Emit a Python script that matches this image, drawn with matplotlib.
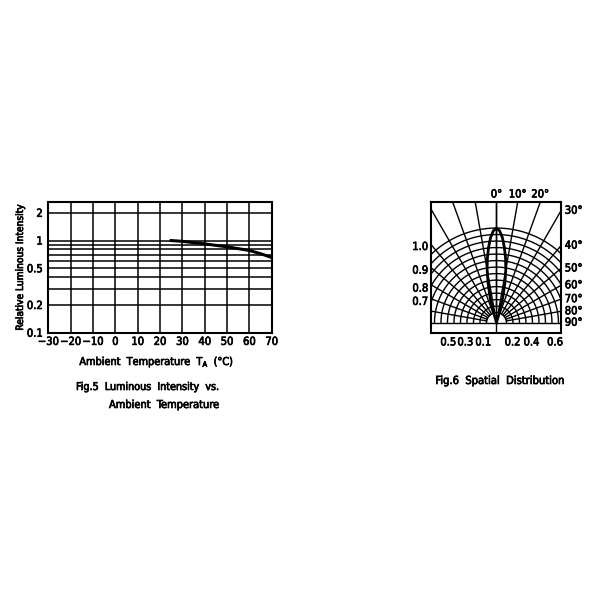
import numpy as np
import matplotlib.pyplot as plt
import matplotlib.patheffects as pe

plt.rcParams['font.family'] = ['DejaVu Sans']
plt.rcParams['font.stretch'] = 'condensed'

# Fig.5 data: relative luminous intensity vs ambient temperature
temp_c = [25, 30, 40, 50, 60, 65, 70]
rel_intensity = [1.0, 0.98, 0.92, 0.855, 0.78, 0.72, 0.655]
x_ticks = [-30, -20, -10, 0, 10, 20, 30, 40, 50, 60, 70]
y_ticks = [0.1, 0.2, 0.5, 1, 2]
y_tick_labels = ['0.1', '0.2', '0.5', '1', '2']
y_grid = [0.2, 0.3, 0.4, 0.5, 0.6, 0.7, 0.8, 0.9, 1, 2]

# Fig.6 data: radiation lobe (angle from axis in degrees, relative radius)
lobe_deg = [0, 2, 4, 6, 8, 10, 12, 14, 16, 17]
lobe_r = [1.0, 0.97, 0.90, 0.80, 0.69, 0.57, 0.43, 0.28, 0.12, 0.0]
top_angles = [0, 10, 20]
side_angles = [30, 40, 50, 60, 70, 80, 90]
left_labels = ['1.0', '0.9', '0.8', '0.7']
bottom_labels = ['0.5', '0.3', '0.1', '0.2', '0.4', '0.6']

fig = plt.figure(figsize=(6, 6), dpi=100)
fs = 8
thick = [pe.withStroke(linewidth=0.5, foreground='black')]

# ---------- Fig.5 ----------
ax1 = fig.add_axes([48.3 / 600, 1 - 332.7 / 600, 223.4 / 600, 130.4 / 600])
ax1.set_yscale('log')
ax1.set_xlim(-30, 70)
ax1.set_ylim(0.1, 2.6)
for x in x_ticks:
    ax1.axvline(x, color='black', lw=1.1)
for y in y_grid:
    ax1.axhline(y, color='black', lw=1.1)
ax1.plot(temp_c, rel_intensity, color='black', lw=2.2)
ax1.set_xticks(x_ticks)
ax1.set_xticklabels([str(v).replace('-', '\u2212') for v in x_ticks])
ax1.set_yticks(y_ticks)
ax1.set_yticklabels(y_tick_labels)
ax1.minorticks_off()
ax1.tick_params(length=0, labelsize=fs)
ax1.tick_params(axis='x', pad=3)
ax1.tick_params(axis='y', pad=4)
for s in ax1.spines.values():
    s.set_linewidth(1.5)
for lab in ax1.get_xticklabels() + ax1.get_yticklabels():
    lab.set_path_effects(thick)

fig.text(20 / 600, 1 - 267 / 600, 'Relative Luminous Intensity', rotation=90,
         ha='center', va='center', fontsize=7.3, path_effects=thick)
fig.text(157 / 600, 1 - 362 / 600, r'Ambient  Temperature  T$_{\rm A}$  (°C)',
         ha='center', va='center', fontsize=7.8, path_effects=thick)
fig.text(76 / 600, 1 - 387 / 600, 'Fig.5  Luminous  Intensity  vs.',
         ha='left', va='center', fontsize=7.7, path_effects=thick)
fig.text(109 / 600, 1 - 405 / 600, 'Ambient  Temperature',
         ha='left', va='center', fontsize=7.9, path_effects=thick)

# ---------- Fig.6 ----------
ax2 = fig.add_axes([431 / 600, 1 - 332.7 / 600, 130 / 600, 130.4 / 600])
xl, xr, yb, yt = -0.693, 0.683, -0.106, 1.272
ax2.set_xlim(xl, xr)
ax2.set_ylim(yb, yt)
ax2.set_xticks([])
ax2.set_yticks([])
for s in ax2.spines.values():
    s.set_linewidth(1.5)

t = np.linspace(0, np.pi, 300)
for r in np.linspace(0.106, 1.0, 14):
    ax2.plot(r * np.cos(t), r * np.sin(t), color='black', lw=1.0)
for a in range(-80, 81, 10):
    th = np.radians(a)
    ax2.plot([0.106 * np.sin(th), 2 * np.sin(th)], [0.106 * np.cos(th), 2 * np.cos(th)],
             color='black', lw=1.0)
ax2.axhline(0, color='black', lw=1.0)
ax2.axvline(0, color='black', lw=1.0)

th = np.radians(lobe_deg)
r = np.array(lobe_r)
lx = np.concatenate([-(r * np.sin(th))[::-1], r * np.sin(th)])
ly = np.concatenate([(r * np.cos(th))[::-1], r * np.cos(th)])
ax2.plot(lx, ly, color='black', lw=2.0)

for a in top_angles:
    ax2.text(yt * np.tan(np.radians(a)), yt + 0.03, f'{a}°', ha='center', va='bottom',
             fontsize=fs, clip_on=False, path_effects=thick)
for a in side_angles:
    yy = 0 if a == 90 else xr / np.tan(np.radians(a))
    ax2.text(xr + 0.04, yy, f'{a}°', ha='left', va='center', fontsize=fs, clip_on=False,
             path_effects=thick)
for lab, yy in zip(left_labels, [0.80, 0.55, 0.36, 0.22]):
    ax2.text(xl - 0.03, yy, lab, ha='right', va='center', fontsize=fs, clip_on=False,
             path_effects=thick)
for lab, xx in zip(bottom_labels, [-0.51, -0.33, -0.14, 0.17, 0.37, 0.62]):
    ax2.text(xx, yb - 0.05, lab, ha='center', va='top', fontsize=fs, clip_on=False,
             path_effects=thick)

fig.text(500 / 600, 1 - 381 / 600, 'Fig.6  Spatial  Distribution',
         ha='center', va='center', fontsize=8, path_effects=thick)

fig.savefig('out.png', dpi=100, facecolor='white')
